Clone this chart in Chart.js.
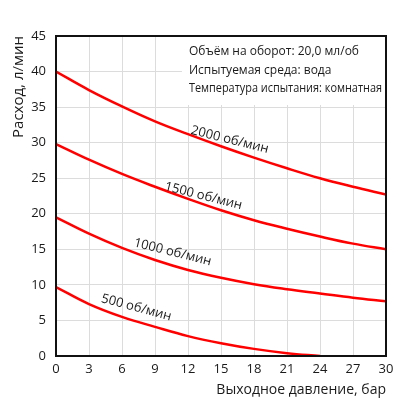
<!DOCTYPE html>
<html>
<head>
<meta charset="utf-8">
<script src="https://cdn.jsdelivr.net/npm/chart.js@4"></script>
<style>
  html, body { margin: 0; padding: 0; background: #fff; }
  #wrap { width: 418px; height: 419px; }
</style>
</head>
<body>
<div id="wrap"><canvas id="flowChart"></canvas></div>
<script>
// Давление, бар
const pressure = [0, 3, 6, 9, 12, 15, 18, 21, 24, 27, 30];
// Расход, л/мин
const flow2000 = [40.0, 37.4, 35.1, 33.0, 31.2, 29.5, 27.9, 26.4, 25.0, 23.8, 22.7];
const flow1500 = [29.8, 27.6, 25.6, 23.8, 22.1, 20.5, 19.1, 17.9, 16.8, 15.8, 15.0];
const flow1000 = [19.5, 17.2, 15.2, 13.5, 12.1, 11.0, 10.1, 9.4, 8.8, 8.2, 7.7];
const flow500 = [9.7, 7.3, 5.5, 4.1, 2.8, 1.8, 1.0, 0.4, 0.0, null, null];
const seriesNames = ['2000 об/мин', '1500 об/мин', '1000 об/мин', '500 об/мин'];
const infoLines = [
    'Объём на оборот: 20,0 мл/об',
    'Испытуемая среда: вода',
    'Температура испытания: комнатная'
];

const FONT = '"Open Sans", "Noto Sans", sans-serif';
const series = [flow2000, flow1500, flow1000, flow500];

function toPoints(values) {
    return pressure.map((p, i) => ({ x: p, y: values[i] }));
}

// подписи кривых: положение в единицах графика (бар, л/мин)
const labelSpots = [
    { x: 15.8, y: 30.4, angle: 14 },
    { x: 13.4, y: 22.5, angle: 14 },
    { x: 10.6, y: 14.6, angle: 14 },
    { x: 7.3, y: 6.8, angle: 15 }
];

const decorPlugin = {
    id: 'decor',
    beforeDatasetsDraw(chart) {
        const { ctx, chartArea, scales } = chart;
        // белая плашка с параметрами испытания
        const bx = scales.x.getPixelForValue(11.45);
        const by = scales.y.getPixelForValue(35.3);
        ctx.save();
        ctx.fillStyle = '#fff';
        ctx.fillRect(bx, chartArea.top, chartArea.right - bx, by - chartArea.top);
        ctx.fillStyle = '#1a1a1a';
        ctx.font = '12px ' + FONT;
        ctx.textBaseline = 'middle';
        infoLines.forEach((t, i) => ctx.fillText(t, bx + 7, chartArea.top + 16 + i * 18.5, chartArea.right - bx - 11));
        ctx.restore();
    },
    afterDatasetsDraw(chart) {
        const { ctx, chartArea, scales } = chart;
        ctx.save();
        ctx.fillStyle = '#1a1a1a';
        ctx.font = '13px ' + FONT;
        ctx.textAlign = 'center';
        ctx.textBaseline = 'middle';
        labelSpots.forEach((s, i) => {
            ctx.save();
            ctx.translate(scales.x.getPixelForValue(s.x), scales.y.getPixelForValue(s.y));
            ctx.rotate(s.angle * Math.PI / 180);
            ctx.fillText(seriesNames[i], 0, 0);
            ctx.restore();
        });
        // рамка
        ctx.strokeStyle = '#111';
        ctx.lineWidth = 2;
        ctx.strokeRect(chartArea.left, chartArea.top, chartArea.right - chartArea.left, chartArea.bottom - chartArea.top);
        ctx.restore();
    }
};

new Chart(document.getElementById('flowChart'), {
    type: 'line',
    data: {
        datasets: series.map((vals, i) => ({
            label: seriesNames[i],
            data: toPoints(vals),
            borderColor: '#ff0000',
            borderWidth: 2.5,
            pointRadius: 0,
            fill: false,
            spanGaps: false,
            tension: 0.4
        }))
    },
    options: {
        responsive: true,
        maintainAspectRatio: false,
        animation: false,
        layout: { padding: { left: 6, right: 32, top: 36, bottom: 17 } },
        plugins: {
            legend: { display: false },
            tooltip: { enabled: false }
        },
        scales: {
            x: {
                type: 'linear',
                min: 0,
                max: 30,
                ticks: { stepSize: 3, color: '#1a1a1a', font: { family: FONT, size: 13 }, padding: 5 },
                grid: { color: '#dcdcdc', lineWidth: 1, drawTicks: false },
                border: { display: false },
                title: {
                    display: true,
                    text: 'Выходное давление, бар',
                    align: 'end',
                    color: '#1a1a1a',
                    font: { family: FONT, size: 14 },
                    padding: { top: 4 }
                },
                afterFit: s => { s.height = 46; }
            },
            y: {
                min: 0,
                max: 45,
                ticks: { stepSize: 5, color: '#1a1a1a', font: { family: FONT, size: 13 }, padding: 10 },
                grid: { color: '#dcdcdc', lineWidth: 1, drawTicks: false },
                border: { display: false },
                title: {
                    display: true,
                    text: 'Расход, л/мин',
                    align: 'end',
                    color: '#1a1a1a',
                    font: { family: FONT, size: 15 },
                    padding: { bottom: 4 }
                },
                afterFit: s => { s.width = 50; }
            }
        }
    },
    plugins: [decorPlugin]
});
</script>
</body>
</html>
